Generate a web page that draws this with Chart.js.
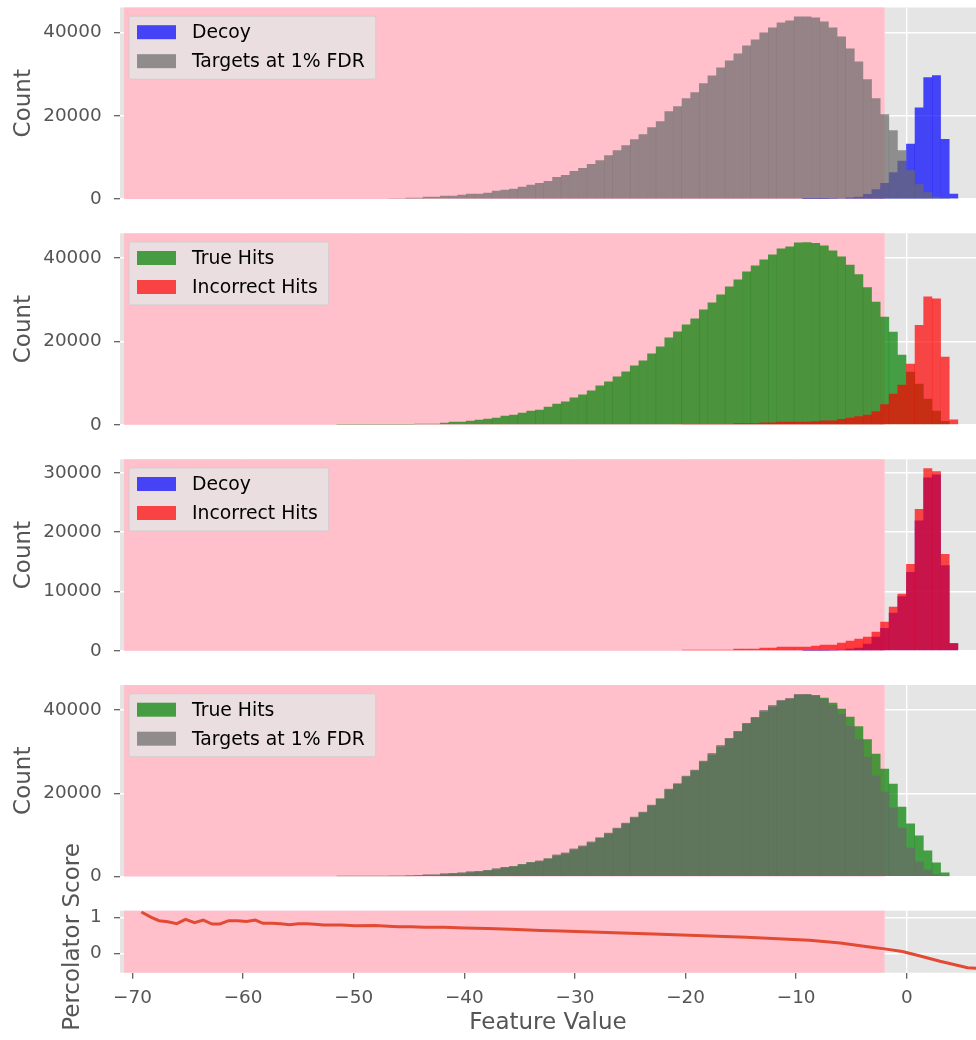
<!DOCTYPE html>
<html>
<head>
<meta charset="utf-8">
<script src="https://cdn.jsdelivr.net/npm/chart.js@4.4.0/dist/chart.umd.min.js"></script>
<style>
  html, body { margin: 0; padding: 0; background: #ffffff; }
  #fig { position: relative; width: 976px; height: 1040px; overflow: hidden; background: #ffffff; }
  #fig canvas { position: absolute; left: 0; }
</style>
</head>
<body>
<div id="fig"></div>
<script>
// ---- histogram bins (72 equal-width bins, left to right) ----
const binStart = -51.54;
const binWidth = 0.7802;

const decoyCounts = [
  0, 0, 0, 0, 0, 0, 0, 0, 0, 0,
  0, 0, 0, 0, 0, 0, 0, 0, 0, 0,
  0, 0, 0, 0, 0, 0, 0, 0, 0, 0,
  0, 0, 0, 0, 0, 0, 0, 0, 0, 0,
  0, 0, 0, 0, 0, 0, 0, 0, 0, 0,
  0, 0, 0, 0,
  20, 30, 50, 80, 170, 300, 490, 1150, 2330, 3800,
  6400, 9150, 13270, 21950, 29200, 29700, 14400, 1250
];

const targetCounts = [
  0, 0,
  0, 0, 0, 0, 150, 150, 240, 240, 480, 480,
  720, 720, 960, 1200, 1200, 1440, 1920, 2160, 2400, 2880,
  3360, 3840, 4320, 5280, 5760, 6720, 7440, 8400, 9280, 10480,
  11680, 12880, 14320, 15520, 17200, 18640, 21040, 22240, 24160, 25600,
  27760, 29680, 31600, 33280, 34960, 36880, 38320, 40000, 41200, 42400,
  42880, 43840, 43840, 43600, 42640, 41200, 39040, 36160, 33040, 28720,
  24160, 20320, 16480, 11680, 6880, 3520, 1600, 480, 100, 0
];

const trueHitCounts = [
  80, 80,
  100, 100, 100, 100, 100, 100, 120, 240, 240, 240,
  480, 720, 720, 960, 1200, 1440, 1680, 2160, 2400, 2880,
  3360, 3600, 4320, 5040, 5520, 6480, 7200, 8160, 9360, 10320,
  11520, 12720, 14160, 15360, 17040, 18720, 20880, 22320, 24000, 25440,
  27600, 29280, 31200, 33120, 34800, 36720, 38160, 39600, 40800, 42240,
  42720, 43680, 43720, 43520, 42920, 41720, 40280, 38360, 36080, 32960,
  29480, 25880, 22280, 16760, 12680, 9800, 6200, 3320, 900, 0
];

const incorrectCounts = [
  0, 0, 0, 0, 0, 0, 0, 0, 0, 0,
  0, 0, 0, 0, 0, 0, 0, 0, 0, 0,
  0, 0, 0, 0, 0, 0, 0, 0, 0, 0,
  0, 0, 0, 0, 0, 0, 0, 0, 0, 0,
  150, 170, 170, 170, 170, 170, 340, 340, 340, 500,
  500, 670, 670, 670, 670, 840, 1010, 1010, 1340, 1680,
  2020, 2350, 3190, 4870, 7390, 9580, 14620, 23860, 30740, 30240,
  16300, 1250
];

// ---- percolator score curve ----
const scoreX = [
  -69.2, -68.3, -67.6, -66.8, -66.0, -65.2, -64.4, -63.6, -62.8, -62.1,
  -61.3, -60.5, -59.7, -58.9, -58.2, -57.4, -56.6, -55.8, -55.0, -54.2,
  -53.5, -52.7, -51.1, -49.9, -48.1, -46.0, -44.8, -43.6, -41.8, -40.0,
  -37.9, -35.8, -33.1, -31.3, -22.9, -14.5, -8.8, -6.0, -3.2, -2.0,
  -0.4, 1.3, 3.0, 4.65, 5.5, 6.3
];
const scoreY = [
  1.153, 1.003, 0.911, 0.883, 0.828, 0.948, 0.856, 0.930, 0.819, 0.819,
  0.911, 0.911, 0.892, 0.930, 0.838, 0.838, 0.828, 0.800, 0.828, 0.828,
  0.810, 0.790, 0.790, 0.770, 0.780, 0.745, 0.745, 0.727, 0.727, 0.710,
  0.690, 0.670, 0.640, 0.625, 0.540, 0.448, 0.365, 0.290, 0.170, 0.125,
  0.050, -0.080, -0.220, -0.340, -0.400, -0.420
];

// ---- axes ----
const xTicks = [-70, -60, -50, -40, -30, -20, -10, 0];
const countTicks = [0, 20000, 40000];
const countTicksFine = [0, 10000, 20000, 30000];
const scoreTicks = [0, 1];
const xMin = -71.13, xMax = 6.26;
const scoreMin = -0.54, scoreMax = 1.19;

// shaded region below the 1% FDR cut-off
const shadeStart = -70.77, shadeEnd = -2.0;

// ---- styling ----
const FONT = '"DejaVu Sans", "Liberation Sans", sans-serif';
const TICK_SIZE = 18.4;
const LEGEND_SIZE = 18.8;
const LABEL_SIZE = 23;
const TEXT_GRAY = '#555555';
const PANEL_BG = '#E5E5E5';
const SHADE = '#FFC0CB';
const COLORS = {
  decoy: 'rgba(0, 0, 255, 0.7)',
  target: 'rgba(105, 105, 105, 0.7)',
  trueHit: 'rgba(0, 128, 0, 0.7)',
  incorrect: 'rgba(255, 0, 0, 0.7)'
};
const FIG_W = 976;
const PLOT_LEFT = 120;

const binCenters = decoyCounts.map((_, i) => binStart + binWidth * (i + 0.5));

const fig = document.getElementById('fig');

function addCanvas(top, height) {
  const c = document.createElement('canvas');
  c.width = FIG_W;
  c.height = height;
  c.style.top = top + 'px';
  c.style.width = FIG_W + 'px';
  c.style.height = height + 'px';
  fig.appendChild(c);
  return c;
}

// grey panel face, then the pink band drawn over the grid but under the data
const panelFace = {
  id: 'panelFace',
  beforeDraw(chart) {
    const { ctx, chartArea: a } = chart;
    ctx.save();
    ctx.fillStyle = PANEL_BG;
    ctx.fillRect(a.left, a.top, a.right - a.left, a.bottom - a.top);
    ctx.restore();
  },
  beforeDatasetsDraw(chart) {
    const { ctx, chartArea: a, scales } = chart;
    const l = Math.max(a.left, scales.x.getPixelForValue(shadeStart));
    const r = Math.min(a.right, scales.x.getPixelForValue(shadeEnd));
    ctx.save();
    ctx.fillStyle = SHADE;
    ctx.fillRect(l, a.top, r - l, a.bottom - a.top);
    ctx.restore();
  }
};

// legend box in the upper-left corner of a panel
const insetLegend = {
  id: 'insetLegend',
  afterDatasetsDraw(chart, args, opts) {
    if (!opts || !opts.show) return;
    const { ctx, chartArea: a } = chart;
    const items = chart.data.datasets.map(d => ({ label: d.label, color: d.backgroundColor }));
    ctx.save();
    ctx.font = LEGEND_SIZE + 'px ' + FONT;
    const textW = Math.max(...items.map(it => ctx.measureText(it.label).width));
    const x0 = a.left + 9, y0 = a.top + 8.7;
    const w = 63 + textW + 11, h = 63;
    ctx.beginPath();
    if (ctx.roundRect) ctx.roundRect(x0, y0, w, h, 2); else ctx.rect(x0, y0, w, h);
    ctx.fillStyle = 'rgba(229, 229, 229, 0.8)';
    ctx.fill();
    ctx.lineWidth = 1;
    ctx.strokeStyle = 'rgba(204, 204, 204, 0.8)';
    ctx.stroke();
    items.forEach((it, k) => {
      const cy = y0 + 16 + k * 29;
      ctx.fillStyle = it.color;
      ctx.fillRect(x0 + 8, cy - 7, 39, 14);
      ctx.fillStyle = '#000000';
      ctx.textAlign = 'left';
      ctx.textBaseline = 'middle';
      ctx.fillText(it.label, x0 + 63, cy + 1);
    });
    ctx.restore();
  }
};

// rotated axis label that may run past its own panel
const sideLabel = {
  id: 'sideLabel',
  afterDraw(chart, args, opts) {
    if (!opts || !opts.text) return;
    const { ctx } = chart;
    ctx.save();
    ctx.translate(opts.x, opts.y);
    ctx.rotate(-Math.PI / 2);
    ctx.font = LABEL_SIZE + 'px ' + FONT;
    ctx.fillStyle = TEXT_GRAY;
    ctx.textAlign = 'center';
    ctx.textBaseline = 'middle';
    ctx.fillText(opts.text, 0, 0);
    ctx.restore();
  }
};

const minus = v => String(v).replace('-', '\u2212');

// keep tick labels from pushing the plotting area inward
function noEdgePadding(s) {
  s.paddingTop = 0; s.paddingBottom = 0; s.paddingLeft = 0; s.paddingRight = 0;
}

function yAxis(min, max, ticks, titleText) {
  return {
    type: 'linear',
    position: 'left',
    min, max,
    afterBuildTicks: s => { s.ticks = ticks.map(v => ({ value: v })); },
    afterFit: s => { s.width = PLOT_LEFT; noEdgePadding(s); },
    grid: { color: '#FFFFFF', lineWidth: 1.4, tickColor: TEXT_GRAY, tickLength: 6, tickWidth: 1.2 },
    border: { display: false },
    ticks: {
      autoSkip: false,
      color: TEXT_GRAY,
      padding: 12.3,
      font: { family: FONT, size: TICK_SIZE },
      callback: v => minus(v)
    },
    title: {
      display: !!titleText,
      text: titleText || '',
      color: TEXT_GRAY,
      font: { family: FONT, size: LABEL_SIZE },
      padding: { top: 10.2, bottom: 0 }
    }
  };
}

function xAxis(showLabels, height) {
  return {
    type: 'linear',
    position: 'bottom',
    min: xMin, max: xMax,
    offset: false,
    afterBuildTicks: s => { s.ticks = xTicks.map(v => ({ value: v })); },
    afterFit: s => { s.height = height; noEdgePadding(s); },
    grid: {
      offset: false,
      color: '#FFFFFF', lineWidth: 1.4,
      drawTicks: showLabels, tickColor: TEXT_GRAY, tickLength: 6, tickWidth: 1.2
    },
    border: { display: false },
    ticks: {
      display: showLabels,
      autoSkip: false,
      maxRotation: 0,
      color: TEXT_GRAY,
      padding: 8,
      font: { family: FONT, size: TICK_SIZE },
      callback: v => minus(v)
    },
    title: {
      display: showLabels,
      text: 'Feature Value',
      color: TEXT_GRAY,
      font: { family: FONT, size: LABEL_SIZE },
      padding: { top: 0, bottom: 2.9 }
    }
  };
}

function histPanel(top, bottom, series, ticks) {
  const canvasTop = Math.max(0, Math.floor(top) - 12);
  const canvasBottom = Math.ceil(bottom) + 12;
  const canvas = addCanvas(canvasTop, canvasBottom - canvasTop);
  const peak = Math.max(...series.map(s => Math.max(...s.counts)));
  new Chart(canvas, {
    type: 'bar',
    data: {
      datasets: series.map((s, k) => ({
        type: 'bar',
        label: s.label,
        // empty bins are left out so no hairline is drawn for them
        data: binCenters.map((x, i) => ({ x, y: s.counts[i] > 0 ? s.counts[i] : null })),
        backgroundColor: s.color,
        borderWidth: 0,
        barPercentage: 1,
        categoryPercentage: 1,
        grouped: false,
        inflateAmount: 0.15,
        order: series.length - k
      }))
    },
    options: {
      responsive: false,
      animation: false,
      events: [],
      layout: { autoPadding: false, padding: { top: top - canvasTop, bottom: canvasBottom - bottom, left: 0, right: 0 } },
      scales: {
        x: xAxis(false, 0),
        y: yAxis(0, peak * 1.05, ticks, 'Count')
      },
      plugins: {
        legend: { display: false },
        tooltip: { enabled: false },
        insetLegend: { show: true }
      }
    },
    plugins: [panelFace, insetLegend]
  });
}

histPanel(7.5, 199, [
  { label: 'Decoy', counts: decoyCounts, color: COLORS.decoy },
  { label: 'Targets at 1% FDR', counts: targetCounts, color: COLORS.target }
], countTicks);

histPanel(233.3, 424.8, [
  { label: 'True Hits', counts: trueHitCounts, color: COLORS.trueHit },
  { label: 'Incorrect Hits', counts: incorrectCounts, color: COLORS.incorrect }
], countTicks);

histPanel(459.3, 650.8, [
  { label: 'Decoy', counts: decoyCounts, color: COLORS.decoy },
  { label: 'Incorrect Hits', counts: incorrectCounts, color: COLORS.incorrect }
], countTicksFine);

histPanel(685, 876.5, [
  { label: 'True Hits', counts: trueHitCounts, color: COLORS.trueHit },
  { label: 'Targets at 1% FDR', counts: targetCounts, color: COLORS.target }
], countTicks);

// bottom panel: percolator score against feature value
(function scorePanel() {
  const top = 910.7, bottom = 972.7;
  const canvasTop = 820, canvasBottom = 1040;
  const canvas = addCanvas(canvasTop, canvasBottom - canvasTop);
  new Chart(canvas, {
    type: 'line',
    data: {
      datasets: [{
        label: 'Percolator Score',
        data: scoreX.map((x, i) => ({ x, y: scoreY[i] })),
        borderColor: '#E24A33',
        borderWidth: 3,
        pointRadius: 0,
        tension: 0,
        fill: false
      }]
    },
    options: {
      responsive: false,
      animation: false,
      events: [],
      layout: { autoPadding: false, padding: { top: top - canvasTop, bottom: 0, left: 0, right: 0 } },
      scales: {
        x: xAxis(true, canvasBottom - bottom),
        y: yAxis(scoreMin, scoreMax, scoreTicks, null)
      },
      plugins: {
        legend: { display: false },
        tooltip: { enabled: false },
        sideLabel: { text: 'Percolator Score', x: 73, y: 937 - canvasTop }
      }
    },
    plugins: [panelFace, sideLabel]
  });
})();
</script>
</body>
</html>
